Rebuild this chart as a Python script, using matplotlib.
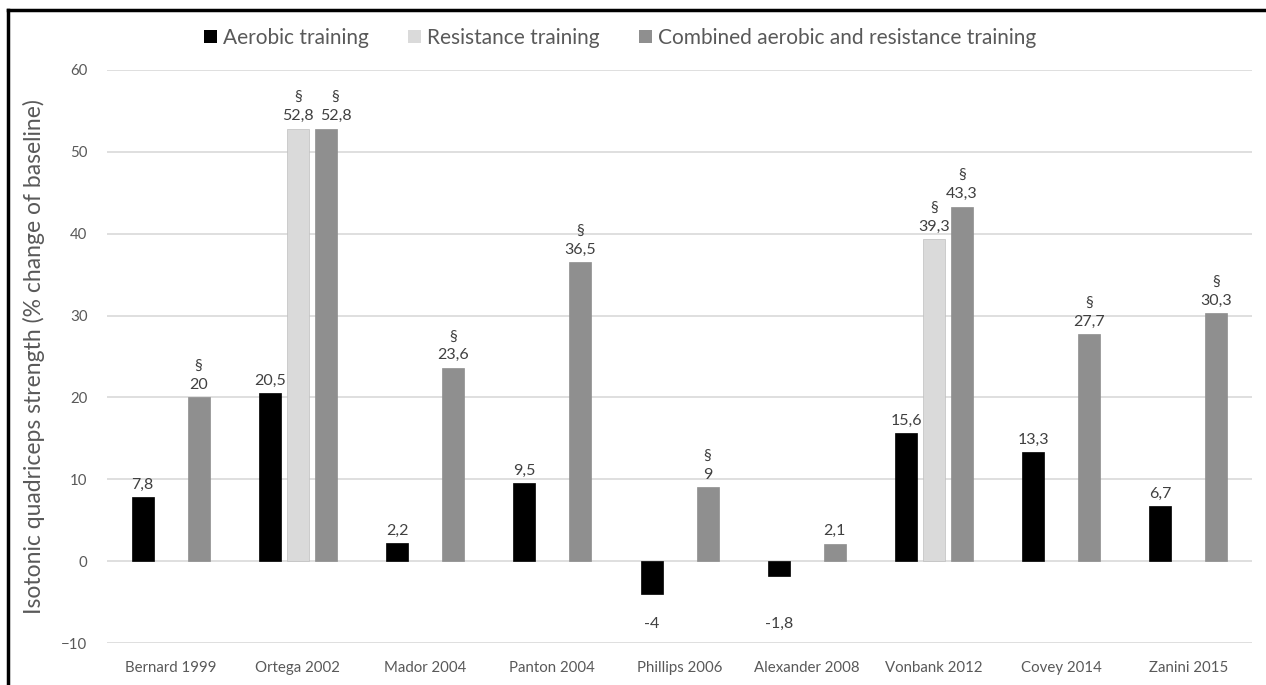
import numpy as np
import matplotlib.pyplot as plt
from matplotlib.patches import Patch
from matplotlib.lines import Line2D

plt.rcParams['font.family'] = ['Lato', 'DejaVu Sans']

studies = ["Bernard 1999", "Ortega 2002", "Mador 2004", "Panton 2004", "Phillips 2006",
           "Alexander 2008", "Vonbank 2012", "Covey 2014", "Zanini 2015"]
aerobic = [7.8, 20.5, 2.2, 9.5, -4, -1.8, 15.6, 13.3, 6.7]
resistance = [np.nan, 52.8, np.nan, np.nan, np.nan, np.nan, 39.3, np.nan, np.nan]
combined = [20, 52.8, 23.6, 36.5, 9, 2.1, 43.3, 27.7, 30.3]
# significance marks (§) per series
resistance_sig = [False, True, False, False, False, False, True, False, False]
combined_sig = [True, True, True, True, True, False, True, True, True]

series = [
    ("Aerobic training", aerobic, [False] * 9, "#000000"),
    ("Resistance training", resistance, resistance_sig, "#dadada"),
    ("Combined aerobic and resistance training", combined, combined_sig, "#8f8f8f"),
]

txt = "#595959"
fig = plt.figure(figsize=(12.66, 6.85), dpi=100)
ax = fig.add_axes([0.0845, 0.0613, 0.9045, 0.8367])

x = np.arange(len(studies))
width = 0.173
pitch = 0.22

for i, (name, vals, sig, col) in enumerate(series):
    pos = x + (i - 1) * pitch
    vals = np.array(vals, dtype=float)
    ax.bar(pos, vals, width, color=col, edgecolor="#bfbfbf" if i == 1 else col,
           linewidth=0.5, zorder=3)
    for j, (p, v, s) in enumerate(zip(pos, vals, sig)):
        if np.isnan(v):
            continue
        lab = ("%g" % v).replace(".", ",")
        if s:
            lab = "§\n" + lab
        # nudge a label right when it would collide with its neighbour's label
        dx = 0
        if i == 2 and not np.isnan(resistance[j]) and abs(resistance[j] - v) < 3:
            dx = 7
        if v >= 0:
            ax.annotate(lab, (p, v), xytext=(dx, 4), textcoords="offset points",
                        ha="center", va="bottom", fontsize=11.5, color="#404040",
                        linespacing=1.45)
        else:
            ax.text(p, -7.7, lab, ha="center", va="center", fontsize=11.5, color="#404040")

ax.set_ylim(-10, 60)
ax.set_xlim(-0.5, len(studies) - 0.5)
ax.set_yticks(np.arange(-10, 61, 10))
ax.yaxis.grid(True, color="#d9d9d9", linewidth=1.2, zorder=0)
ax.set_axisbelow(True)
for s in ax.spines.values():
    s.set_visible(False)
ax.tick_params(axis="both", length=0, labelsize=10.8, labelcolor=txt)
ax.tick_params(axis="y", pad=14)
ax.tick_params(axis="x", pad=13)
ax.set_xticks(x)
ax.set_xticklabels(studies)
ax.set_ylabel("Isotonic quadriceps strength (% change of baseline)", fontsize=16.5,
              color=txt, labelpad=12)

handles = [Patch(facecolor=c, edgecolor="none") for _, _, _, c in series]
fig.legend(handles, [s[0] for s in series], loc="center", bbox_to_anchor=(0.49, 0.945),
           ncol=3, frameon=False, fontsize=15, labelcolor=txt, handlelength=0.6,
           handleheight=0.6, handletextpad=0.3, columnspacing=1.9)

# frame lines of the original figure (left and top)
fig.add_artist(Line2D([0.0063, 0.0063], [0, 0.986], transform=fig.transFigure,
                      color="black", linewidth=2.5))
fig.add_artist(Line2D([0.0063, 1], [0.986, 0.986], transform=fig.transFigure,
                      color="black", linewidth=2.5))

fig.savefig("out.png", dpi=100, facecolor="white")
